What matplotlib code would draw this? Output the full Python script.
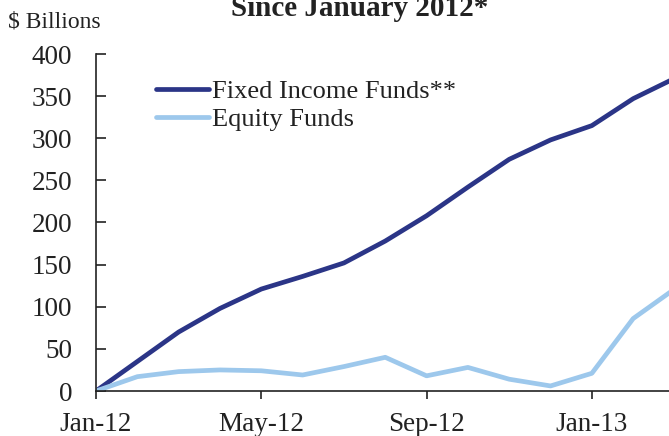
import matplotlib
matplotlib.use("Agg")
import matplotlib.pyplot as plt

months = list(range(15))  # Jan-12 .. Mar-13
fixed_income = [0, 35, 70, 98, 121, 136, 152, 178, 208, 242, 275, 298, 315, 347, 371]
equity = [0, 17, 23, 25, 24, 19, 29, 40, 18, 28, 14, 6, 21, 86, 121]
tick_pos = [0, 4, 8, 12]
tick_labels = ["Jan-12", "May-12", "Sep-12", "Jan-13"]
yticks = [0, 50, 100, 150, 200, 250, 300, 350, 400]

plt.rcParams['font.family'] = ['Liberation Serif', 'DejaVu Serif']

W, H = 669, 436
fig = plt.figure(figsize=(W/100, H/100), dpi=100)
left, right = 96/W, 1.0
bottom, top = (H-391)/H, (H-54)/H
ax = fig.add_axes([left, bottom, right-left, top-bottom])

dark = '#2B3587'
light = '#9DC8EC'
ax.plot(months, fixed_income, color=dark, lw=3.4, solid_capstyle='round', label='Fixed Income Funds**')
ax.plot(months, equity, color=light, lw=3.4, solid_capstyle='round', label='Equity Funds')

ax.set_xlim(0, (669-97)/41.25)
ax.set_ylim(0, 400)
ax.set_yticks(yticks)
ax.set_yticklabels([str(v) for v in yticks], fontsize=19.5)
ax.set_xticks(tick_pos)
ax.set_xticklabels(tick_labels, fontsize=19.5)
ax.tick_params(axis='y', direction='in', length=7, width=1.2, pad=17, colors='#222222')
ax.tick_params(axis='x', direction='out', length=6, width=1.2, pad=9, colors='#222222')
for s in ['top', 'right']:
    ax.spines[s].set_visible(False)
for s in ['left', 'bottom']:
    ax.spines[s].set_linewidth(1.2)
    ax.spines[s].set_color('#222222')

leg = ax.legend(loc='upper left', bbox_to_anchor=(0.105, 0.925), frameon=False,
                fontsize=19, handlelength=2.0, handletextpad=0.12, labelspacing=0.2,
                borderaxespad=0, borderpad=0)
for t in leg.get_texts():
    t.set_color('#222222')

fig.text(8/W, 1 - 22/H, "$ Billions", fontsize=17, ha='left', va='center', color='#222222')
fig.text(360/W, 1 - 16/H, "Since January 2012*", fontsize=21, fontweight='bold', ha='center',
         va='baseline', color='#222222')

fig.savefig("out.png", dpi=100)
